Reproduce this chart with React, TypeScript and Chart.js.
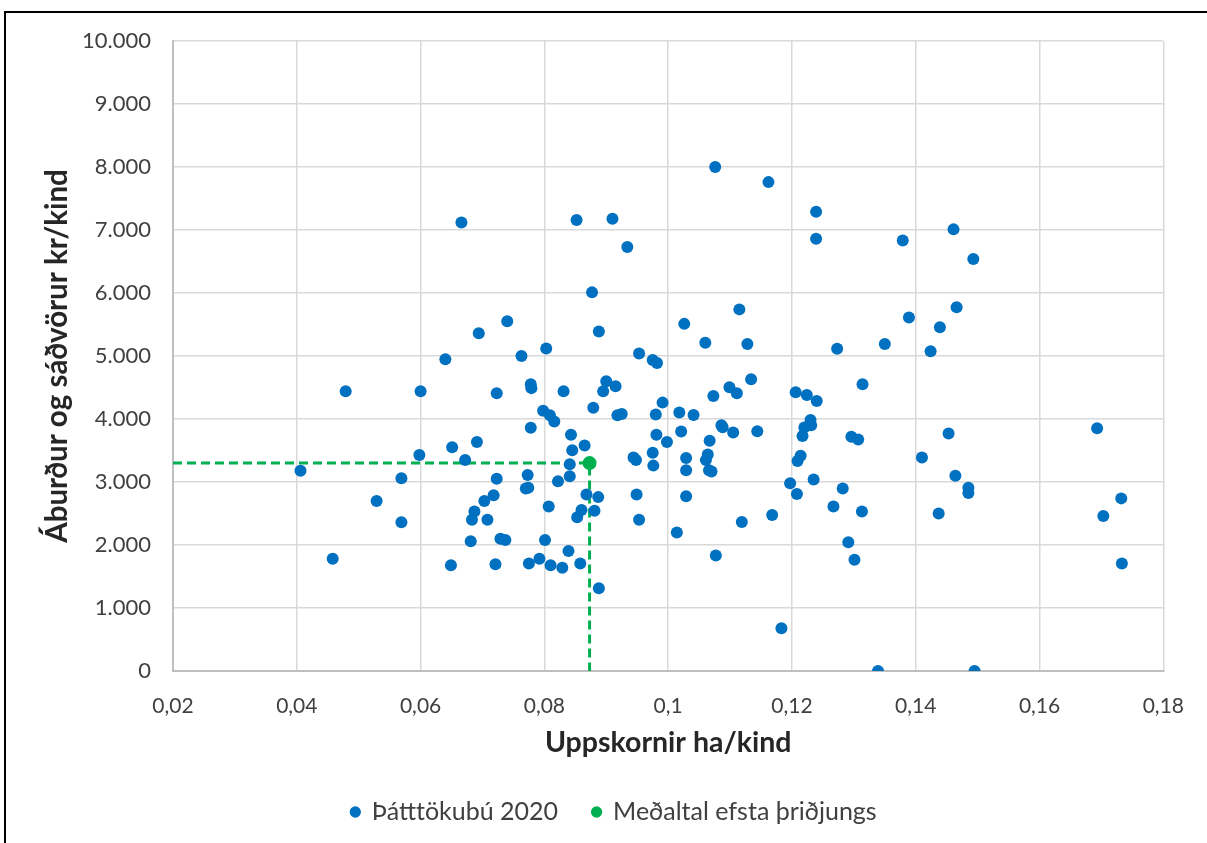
import React, { useEffect, useRef } from "react";
import { Chart, registerables } from "chart.js";

Chart.register(...registerables);

// Þátttökubú 2020 — x: Uppskornir ha/kind, y: kr/kind
const farmX = [
  0.0406, 0.0458, 0.0479, 0.0529, 0.0569, 0.0569, 0.0600, 0.0598,
  0.0666, 0.0852, 0.0910, 0.0934, 0.0877, 0.0888, 0.0694, 0.0740, 0.0640, 0.0763,
  0.0803, 0.0953, 0.0975, 0.0982, 0.0723, 0.0778, 0.0779, 0.0831, 0.0900, 0.0895,
  0.0915, 0.0879, 0.0798, 0.0809, 0.0816, 0.0918, 0.0925, 0.0991, 0.0980, 0.0778,
  0.0843, 0.0865, 0.0845, 0.0981, 0.0998, 0.0651, 0.0691, 0.0672, 0.0841, 0.0841,
  0.0944, 0.0948, 0.0975, 0.0976, 0.0723, 0.0773, 0.0770, 0.0774, 0.0822, 0.0718,
  0.0703, 0.0687, 0.0683, 0.0708, 0.0681, 0.0729, 0.0737, 0.0649, 0.0721, 0.0775,
  0.0792, 0.0801, 0.0807, 0.0810, 0.0829, 0.0839, 0.0858, 0.0888, 0.0868, 0.0887,
  0.0860, 0.0853, 0.0881, 0.0949, 0.0953,
  0.1076, 0.1162, 0.1239, 0.1239, 0.1379, 0.1115, 0.1026, 0.1389, 0.1060, 0.1128,
  0.1273, 0.1350, 0.1134, 0.1314, 0.1073, 0.1099, 0.1111, 0.1206, 0.1224, 0.1240,
  0.1018, 0.1041, 0.1021, 0.1086, 0.1088, 0.1105, 0.1144, 0.1067, 0.1230, 0.1231,
  0.1220, 0.1217, 0.1214, 0.1209, 0.1296, 0.1307, 0.1029, 0.1029, 0.1064, 0.1061,
  0.1066, 0.1070, 0.1029, 0.1197, 0.1208, 0.1235, 0.1282, 0.1267, 0.1313, 0.1168,
  0.1119, 0.1014, 0.1291, 0.1301, 0.1077, 0.1183, 0.1339,
  0.1461, 0.1493, 0.1466, 0.1439, 0.1424, 0.1453, 0.1410, 0.1464, 0.1485, 0.1485,
  0.1437, 0.1495, 0.1693, 0.1732, 0.1703, 0.1733,
];
const farmY = [
  3180, 1780, 4440, 2700, 3060, 2360, 4440, 3430,
  7120, 7160, 7180, 6730, 6010, 5390, 5360, 5550, 4950, 5000,
  5120, 5040, 4935, 4890, 4410, 4550, 4490, 4440, 4600, 4440,
  4520, 4180, 4130, 4060, 3960, 4060, 4080, 4260, 4070, 3860,
  3750, 3580, 3505, 3750, 3635, 3550, 3635, 3350, 3280, 3090,
  3390, 3350, 3465, 3260, 3050, 3110, 2895, 2910, 3010, 2790,
  2700, 2530, 2400, 2400, 2060, 2100, 2080, 1680, 1695, 1705,
  1780, 2080, 2610, 1680, 1640, 1905, 1705, 1315, 2800, 2760,
  2555, 2440, 2545, 2800, 2400,
  8000, 7760, 7290, 6860, 6835, 5740, 5510, 5610, 5210, 5190,
  5115, 5190, 4630, 4550, 4365, 4505, 4410, 4425, 4380, 4285,
  4105, 4065, 3800, 3900, 3870, 3785, 3805, 3655, 3985, 3900,
  3865, 3730, 3415, 3335, 3720, 3675, 3380, 3185, 3435, 3350,
  3185, 3165, 2775, 2980, 2810, 3040, 2895, 2610, 2530, 2475,
  2365, 2200, 2045, 1765, 1835, 680, 0,
  7010, 6540, 5775, 5455, 5075, 3770, 3390, 3100, 2910, 2825,
  2500, 0, 3855, 2740, 2460, 1705,
];

// Meðaltal efsta þriðjungs
const topThirdX = [0.0873];
const topThirdY = [3300];

const seriesLabels = ["Þátttökubú 2020", "Meðaltal efsta þriðjungs"];
const xTitle = "Uppskornir ha/kind";
const yTitle = "Áburður og sáðvörur kr/kind";
const xMin = 0.02;
const xMax = 0.18;
const xStep = 0.02;
const yMin = 0;
const yMax = 10000;
const yStep = 1000;

const FONT = "Lato, 'Open Sans', sans-serif";

export default function App() {
  const ref = useRef<HTMLCanvasElement | null>(null);

  useEffect(() => {
    if (!ref.current) return;
    const farmPts = farmX.map((x, i) => ({ x, y: farmY[i] }));
    const topPts = topThirdX.map((x, i) => ({ x, y: topThirdY[i] }));
    const guide = [
      { x: xMin, y: topThirdY[0] },
      { x: topThirdX[0], y: topThirdY[0] },
      { x: topThirdX[0], y: yMin },
    ];
    const chart = new Chart(ref.current, {
      type: "scatter",
      data: {
        datasets: [
          {
            label: seriesLabels[0],
            data: farmPts,
            backgroundColor: "#0070C0",
            borderColor: "#0070C0",
            pointRadius: 6,
            borderWidth: 0,
            order: 2,
          },
          {
            label: seriesLabels[1],
            data: topPts,
            backgroundColor: "#00B050",
            borderColor: "#00B050",
            pointRadius: 7,
            borderWidth: 0,
            order: 1,
          },
          {
            label: "guide",
            data: guide,
            showLine: true,
            borderColor: "#00B050",
            borderWidth: 3,
            borderDash: [9, 5],
            pointRadius: 0,
            fill: false,
            order: 3,
          } as any,
        ],
      },
      options: {
        responsive: false,
        animation: false,
        layout: { padding: { top: 41, left: 56.5, right: 35.5, bottom: 8.5 } },
        plugins: {
          tooltip: { enabled: false },
          legend: {
            position: "bottom",
            labels: {
              filter: (item: any) => item.text !== "guide",
              sort: (a: any, b: any) => a.datasetIndex - b.datasetIndex,
              usePointStyle: true,
              pointStyle: "circle",
              boxWidth: 8,
              boxHeight: 8,
              padding: 34.5,
              color: "#404040",
              font: { family: FONT, size: 25 },
            },
          },
        },
        scales: {
          x: {
            type: "linear",
            min: xMin,
            max: xMax,
            afterFit: (s: any) => {
              s.height = 94;
            },
            ticks: {
              stepSize: xStep,
              padding: 23,
              color: "#404040",
              font: { family: FONT, size: 21 },
              callback: (v: any) =>
                (Math.round(Number(v) * 100) / 100).toString().replace(".", ","),
            },
            grid: { color: "#d9d9d9", lineWidth: 1.5, drawTicks: false },
            border: { color: "#bfbfbf", width: 2 },
            title: {
              display: true,
              text: xTitle,
              color: "#262626",
              font: { family: FONT, size: 28.5, weight: "bold" },
              padding: { top: 4, bottom: 5 },
            },
          },
          y: {
            type: "linear",
            min: yMin,
            max: yMax,
            afterFit: (s: any) => {
              s.width = 116.5;
            },
            ticks: {
              stepSize: yStep,
              padding: 22,
              color: "#404040",
              font: { family: FONT, size: 22 },
              callback: (v: any) =>
                String(Math.round(Number(v))).replace(/\B(?=(\d{3})+(?!\d))/g, "."),
            },
            grid: { color: "#d9d9d9", lineWidth: 1.5, drawTicks: false },
            border: { color: "#bfbfbf", width: 2 },
            title: {
              display: true,
              text: yTitle,
              color: "#262626",
              font: { family: FONT, size: 29.5, weight: "bold" },
              padding: { top: -16.5, bottom: 4 },
            },
          },
        },
      },
    });
    return () => chart.destroy();
  }, []);

  return (
    <div
      style={{
        position: "fixed",
        left: 0,
        top: 0,
        width: 1207,
        height: 843,
        overflow: "hidden",
        background: "#ffffff",
      }}
    >
      <div
        style={{
          position: "absolute",
          left: 4,
          top: 11,
          width: 1400,
          height: 1000,
          borderTop: "2px solid #000",
          borderLeft: "2px solid #000",
        }}
      />
      <canvas
        ref={ref}
        width={1207}
        height={843}
        style={{ position: "absolute", left: 0, top: 0, width: 1207, height: 843 }}
      />
    </div>
  );
}
